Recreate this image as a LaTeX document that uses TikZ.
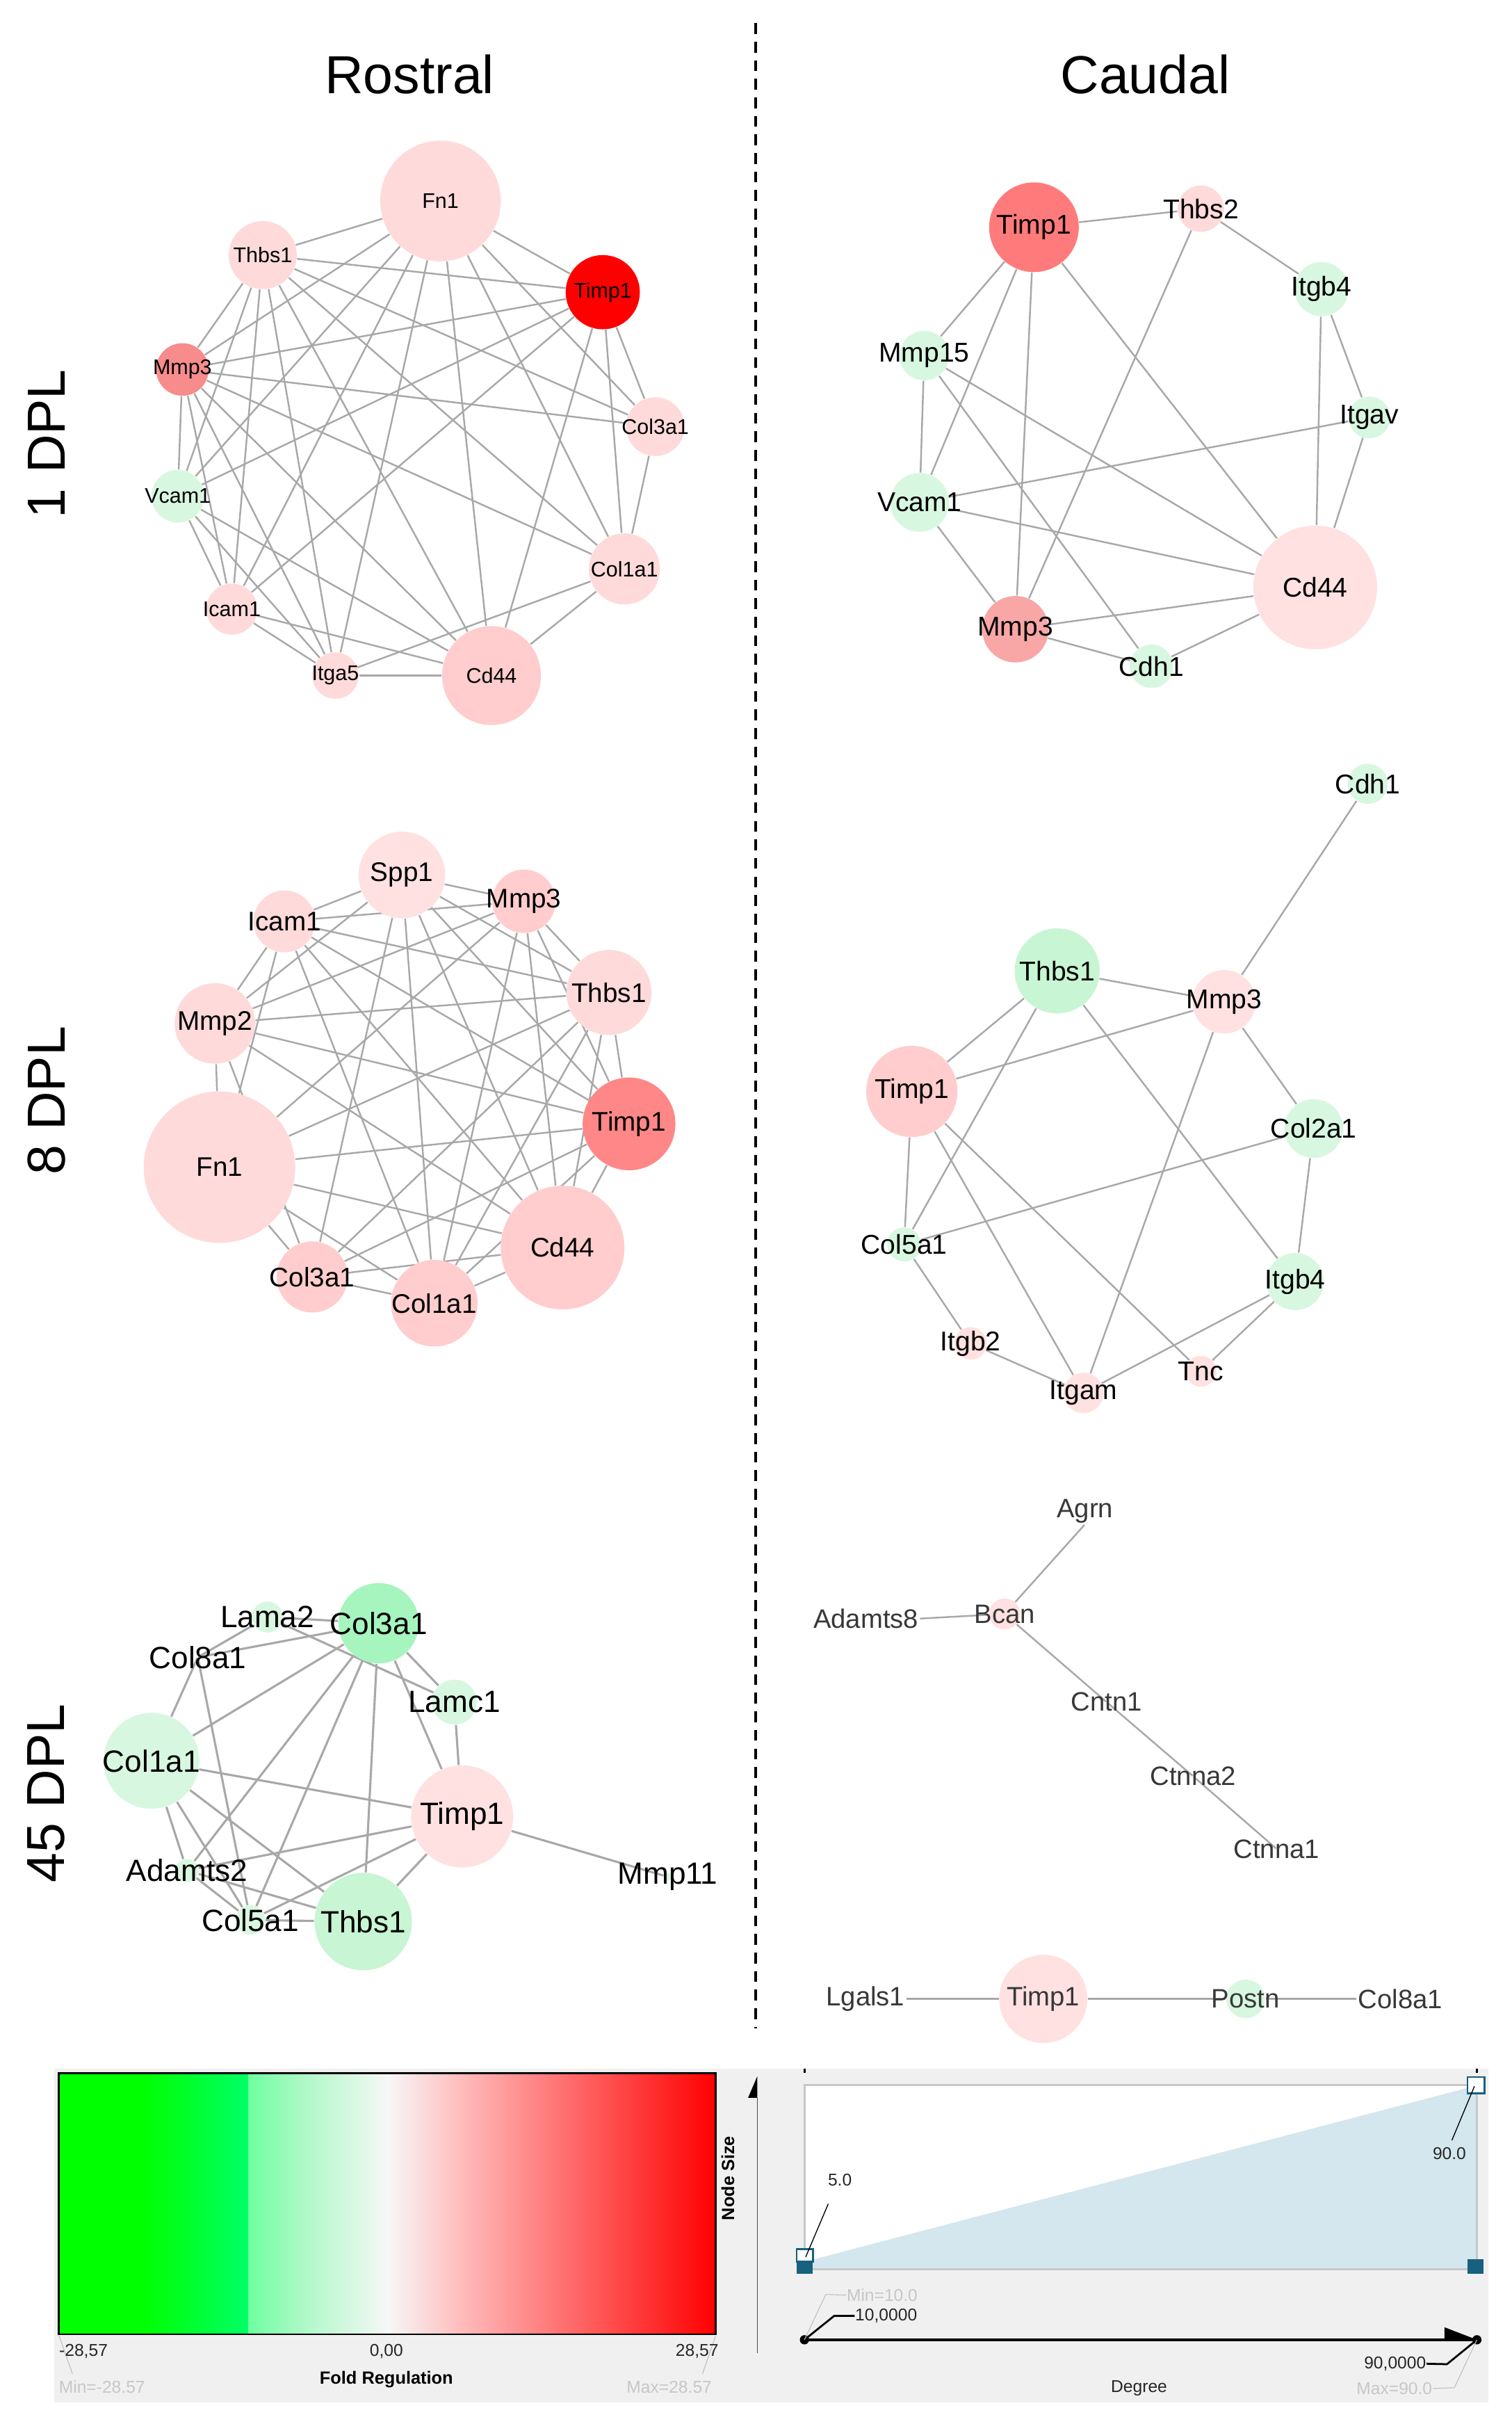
\documentclass[tikz,border=0pt]{standalone}
\usepackage{fontspec}
\setmainfont{Liberation Sans}
\usetikzlibrary{backgrounds}

\definecolor{upHi}{HTML}{FF0000}
\definecolor{upMd}{HTML}{FF7B7B}
\definecolor{upT}{HTML}{FF8787}
\definecolor{upSal}{HTML}{F78C8C}
\definecolor{upLo}{HTML}{F8A6A6}
\definecolor{upSoft}{HTML}{FFCDCD}
\definecolor{upFaint}{HTML}{FFDADA}
\definecolor{upPale}{HTML}{FFE1E1}
\definecolor{dnFaint}{HTML}{D8F7E0}
\definecolor{dnSoft}{HTML}{C8F5D3}
\definecolor{dnMd}{HTML}{A6F4BE}
\definecolor{linkgray}{HTML}{A8A8A8}
\definecolor{panelgray}{HTML}{F0F0F0}
\definecolor{handle}{HTML}{17607F}
\definecolor{sizefill}{HTML}{D4E6EE}
\definecolor{barG}{HTML}{00FF00}
\definecolor{barGc}{HTML}{00FF66}
\definecolor{barMa}{HTML}{6EFFA0}
\definecolor{barMb}{HTML}{B0F8C8}
\definecolor{barW}{HTML}{F7F7F7}
\definecolor{barP}{HTML}{FFBDBD}

\tikzset{
  gene/.style 2 args={circle, fill=#2, inner sep=0pt, minimum size=#1*0.2mm},
  bare/.style={inner sep=0pt, minimum size=0pt},
  link/.style={draw=linkgray, line width=0.22mm},
  head/.style={font=\fontsize{19.7}{22}\selectfont},
  tick/.style={font=\fontsize{6.3}{7}\selectfont, text=black!85, inner sep=0pt},
  faint/.style={font=\fontsize{6.3}{7}\selectfont, text=black!22, inner sep=0pt},
  boldtick/.style={font=\bfseries\fontsize{6.5}{7}\selectfont, inner sep=0pt},
}

\begin{document}
\begin{tikzpicture}[x=0.2mm, y=-0.2mm]
\useasboundingbox (0,0) rectangle (978,1568);
\begin{pgfonlayer}{background}
  \fill[white] (0,0) rectangle (978,1568);
\end{pgfonlayer}

% headings and divider
\node[head] (rost) at (265,48) {Rostral};
\node[head] (caud) at (741,48) {Caudal};
\node[head, rotate=90] (dpla) at (30,287) {1 DPL};
\node[head, rotate=90] (dplb) at (30,712) {8 DPL};
\node[head, rotate=90] (dplc) at (30,1160) {45 DPL};
\draw[black, line width=0.4mm, dash pattern=on 1.4mm off 1mm] (489,15) -- (489,1312);

% rostral, 1 DPL
\begin{scope}[every label/.style={font=\fontsize{7.8}{9}\selectfont, inner sep=0pt}]
  \node[gene={78}{upFaint}, label=center:Fn1] (raFn) at (285,130) {};
  \node[gene={44}{upFaint}, label=center:Thbs1] (raThbs) at (170,165) {};
  \node[gene={48}{upHi}, label=center:Timp1] (raTimp) at (390,189) {};
  \node[gene={34}{upSal}, label=center:Mmp3] (raMmp) at (118,239) {};
  \node[gene={38}{upFaint}, label=center:Col3a1] (raCol3) at (424,276) {};
  \node[gene={34}{dnFaint}, label=center:Vcam1] (raVcam) at (115,321) {};
  \node[gene={46}{upFaint}, label=center:Col1a1] (raCol1) at (404,368) {};
  \node[gene={33}{upFaint}, label=center:Icam1] (raIcam) at (150,394) {};
  \node[gene={30}{upFaint}, label=center:Itga5] (raItga) at (217,437) {};
  \node[gene={64}{upSoft}, label=center:Cd44] (raCd) at (318,437) {};
\end{scope}
\begin{pgfonlayer}{background}
  \foreach \a/\b in {Fn/Thbs, Fn/Timp, Fn/Mmp, Fn/Col3, Fn/Vcam, Fn/Col1, Fn/Icam, Fn/Itga, Fn/Cd,
      Thbs/Timp, Thbs/Mmp, Thbs/Col3, Thbs/Vcam, Thbs/Icam, Thbs/Itga, Thbs/Cd, Thbs/Col1,
      Timp/Mmp, Timp/Col3, Timp/Col1, Timp/Cd, Timp/Vcam, Timp/Icam,
      Mmp/Col3, Mmp/Col1, Mmp/Cd, Mmp/Vcam, Mmp/Icam, Mmp/Itga,
      Col3/Col1, Col1/Cd, Col1/Itga, Vcam/Icam, Vcam/Itga, Vcam/Cd,
      Icam/Itga, Icam/Cd, Itga/Cd}
    \draw[link] (ra\a) -- (ra\b);
\end{pgfonlayer}

% caudal, 1 DPL
\begin{scope}[every label/.style={font=\fontsize{10}{11}\selectfont, inner sep=0pt}]
  \node[gene={58}{upMd}, label=center:Timp1] (caTimp) at (669,147) {};
  \node[gene={30}{upFaint}, label=center:Thbs2] (caThbs) at (777,135) {};
  \node[gene={35}{dnFaint}, label=center:Itgb4] (caItgb) at (855,187) {};
  \node[gene={32}{dnFaint}, label=center:Mmp15] (caMmpf) at (598,230) {};
  \node[gene={27}{dnFaint}, label=center:Itgav] (caItgav) at (886,270) {};
  \node[gene={38}{dnFaint}, label=center:Vcam1] (caVcam) at (595,325) {};
  \node[gene={80}{upPale}, label=center:Cd44] (caCd) at (851,380) {};
  \node[gene={43}{upLo}, label=center:Mmp3] (caMmp) at (657,407) {};
  \node[gene={28}{dnFaint}, label=center:Cdh1] (caCdh) at (745,431) {};
\end{scope}
\begin{pgfonlayer}{background}
  \foreach \a/\b in {Timp/Thbs, Thbs/Itgb, Timp/Mmpf, Timp/Vcam, Timp/Mmp, Timp/Cd,
      Thbs/Mmp, Itgb/Itgav, Itgb/Cd, Itgav/Cd, Itgav/Vcam, Mmpf/Vcam, Mmpf/Cd,
      Mmpf/Cdh, Vcam/Cd, Vcam/Mmp, Mmp/Cd, Mmp/Cdh, Cdh/Cd}
    \draw[link] (ca\a) -- (ca\b);
\end{pgfonlayer}

% rostral, 8 DPL
\begin{scope}[every label/.style={font=\fontsize{9.9}{11}\selectfont, inner sep=0pt}]
  \node[gene={56}{upPale}, label=center:Spp1] (rbSpp) at (260,566) {};
  \node[gene={41}{upSoft}, label=center:Mmp3] (rbMmpc) at (339,583) {};
  \node[gene={40}{upFaint}, label=center:Icam1] (rbIcam) at (184,596) {};
  \node[gene={55}{upFaint}, label=center:Thbs1] (rbThbs) at (394,642) {};
  \node[gene={52}{upFaint}, label=center:Mmp2] (rbMmpb) at (139,662) {};
  \node[gene={60}{upT}, label=center:Timp1] (rbTimp) at (407,727) {};
  \node[gene={98}{upFaint}, label=center:Fn1] (rbFn) at (142,755) {};
  \node[gene={80}{upSoft}, label=center:Cd44] (rbCd) at (364,807) {};
  \node[gene={46}{upSoft}, label=center:Col3a1] (rbCol3) at (202,826) {};
  \node[gene={56}{upSoft}, label=center:Col1a1] (rbCol1) at (281,843) {};
\end{scope}
\begin{pgfonlayer}{background}
  \foreach \a/\b in {Spp/Mmpc, Spp/Icam, Spp/Thbs, Spp/Mmpb, Spp/Timp, Spp/Cd, Spp/Col3, Spp/Col1,
      Mmpc/Icam, Mmpc/Thbs, Mmpc/Mmpb, Mmpc/Timp, Mmpc/Fn, Mmpc/Cd, Mmpc/Col1,
      Icam/Thbs, Icam/Mmpb, Icam/Timp, Icam/Fn, Icam/Cd, Icam/Col1,
      Thbs/Mmpb, Thbs/Timp, Thbs/Fn, Thbs/Cd, Thbs/Col3, Thbs/Col1,
      Mmpb/Timp, Mmpb/Fn, Mmpb/Cd, Mmpb/Col3,
      Timp/Fn, Timp/Cd, Timp/Col3, Timp/Col1,
      Fn/Cd, Fn/Col3, Fn/Col1, Cd/Col3, Cd/Col1, Col3/Col1}
    \draw[link] (rb\a) -- (rb\b);
\end{pgfonlayer}

% caudal, 8 DPL
\begin{scope}[every label/.style={font=\fontsize{10}{11}\selectfont, inner sep=0pt}]
  \node[gene={26}{dnFaint}, label=center:Cdh1] (cbCdh) at (885,507) {};
  \node[gene={55}{dnSoft}, label=center:Thbs1] (cbThbs) at (684,628) {};
  \node[gene={41}{upPale}, label=center:Mmp3] (cbMmp) at (792,648) {};
  \node[gene={59}{upSoft}, label=center:Timp1] (cbTimp) at (590,706) {};
  \node[gene={38}{dnFaint}, label=center:Col2a1] (cbCol2) at (850,730) {};
  \node[gene={22}{dnFaint}, label=center:Col5a1] (cbCol5) at (585,805) {};
  \node[gene={37}{dnFaint}, label=center:Itgb4] (cbItgb) at (838,829) {};
  \node[gene={21}{upPale}, label=center:Itgb2] (cbItgbb) at (628,869) {};
  \node[gene={20}{upPale}, label=center:Tnc] (cbTnc) at (777,887) {};
  \node[gene={26}{upPale}, label=center:Itgam] (cbItgam) at (701,901) {};
\end{scope}
\begin{pgfonlayer}{background}
  \foreach \a/\b in {Cdh/Mmp, Thbs/Mmp, Thbs/Timp, Thbs/Col5, Thbs/Itgb, Timp/Mmp,
      Mmp/Col2, Mmp/Itgam, Timp/Col5, Timp/Itgam, Timp/Tnc, Col2/Col5, Col2/Itgb,
      Col5/Itgbb, Itgbb/Itgam, Itgam/Itgb, Itgb/Tnc}
    \draw[link] (cb\a) -- (cb\b);
\end{pgfonlayer}

% rostral, 45 DPL
\begin{scope}[every label/.style={font=\fontsize{11.3}{12}\selectfont, inner sep=0pt}]
  \node[gene={20}{dnFaint}, label=center:Lama2] (rcLama) at (173,1046) {};
  \node[gene={52}{dnMd}, label=center:Col3a1] (rcCol3) at (245,1050) {};
  \node[bare, label=center:Col8a1] (rcCol8) at (128,1072) {};
  \node[gene={29}{dnFaint}, label=center:Lamc1] (rcLamc) at (294,1101) {};
  \node[gene={62}{dnFaint}, label=center:Col1a1] (rcCol1) at (98,1139) {};
  \node[gene={66}{upPale}, label=center:Timp1] (rcTimp) at (299,1175) {};
  \node[gene={15}{dnFaint}, label=center:Adamts2] (rcAdam) at (121,1210) {};
  \node[gene={5}{dnFaint}, label=center:Mmp11] (rcMmp) at (432,1214) {};
  \node[gene={19}{dnFaint}, label=center:Col5a1] (rcCol5) at (162,1242) {};
  \node[gene={63}{dnSoft}, label=center:Thbs1] (rcThbs) at (235,1243) {};
\end{scope}
\begin{pgfonlayer}{background}
  \foreach \a/\b in {Lama/Col3, Lama/Col8, Col8/Col3, Lama/Lamc, Col3/Lamc, Col3/Timp,
      Lamc/Timp, Col3/Col1, Col3/Adam, Col3/Col5, Col3/Thbs, Col8/Col1, Col8/Col5,
      Col1/Timp, Col1/Adam, Col1/Col5, Col1/Thbs, Timp/Adam, Timp/Col5, Timp/Thbs,
      Timp/Mmp, Adam/Col5, Adam/Thbs, Col5/Thbs}
    \draw[link, line width=0.28mm] (rc\a) -- (rc\b);
\end{pgfonlayer}

% caudal, 45 DPL
\begin{scope}[every label/.style={font=\fontsize{9.8}{11}\selectfont, inner sep=0pt, text=black!78}]
  \node[bare, label=north:Agrn] (ccAgrn) at (702,986) {};
  \node[gene={20}{upPale}, label=center:Bcan] (ccBcan) at (650,1044) {};
  \node[bare, label=west:Adamts8] (ccAdam) at (595,1047) {};
  \node[bare, label=center:Cntn1] (ccCntn) at (716,1101) {};
  \node[bare, label=center:Ctnna2] (ccCtnb) at (772,1149) {};
  \node[bare, label=center:Ctnna1] (ccCtna) at (826,1196) {};
  \node[bare, label=west:Lgals1] (ccLgal) at (586,1293) {};
  \node[gene={57}{upPale}, label=center:Timp1] (ccTimp) at (675,1293) {};
  \node[gene={25}{dnFaint}, label=center:Postn] (ccPost) at (806,1293) {};
  \node[bare, label=east:Col8a1] (ccCol8) at (878,1293) {};
\end{scope}
\begin{pgfonlayer}{background}
  \foreach \a/\b in {Agrn/Bcan, Bcan/Adam, Bcan/Cntn, Cntn/Ctnb, Ctnb/Ctna,
      Lgal/Timp, Timp/Post, Post/Col8}
    \draw[link] (cc\a) -- (cc\b);
\end{pgfonlayer}

% legend: fold regulation
\fill[panelgray] (35,1338) rectangle (963,1554);
\fill[barG] (38,1341) rectangle (92.5,1510);
\shade[left color=barG, right color=barGc] (92,1341) rectangle (161,1510);
\shade[left color=barMa, right color=barMb] (160.5,1341) rectangle (197.5,1510);
\shade[left color=barMb, right color=barW] (197,1341) rectangle (251.5,1510);
\shade[left color=barW, right color=barP] (251,1341) rectangle (297.5,1510);
\shade[left color=barP, right color=upHi] (297,1341) rectangle (463,1510);
\draw[black, line width=0.25mm] (38,1341) rectangle (463,1510);
\draw[black!25, line width=0.1mm] (38.3,1511) -- (46.9,1535.6);
\draw[black!25, line width=0.1mm] (463,1511) -- (454.5,1535.6);
\node[tick] (fmin) at (54,1521) {-28,57};
\node[tick] (fmid) at (250,1521) {0,00};
\node[tick] (fmax) at (451,1521) {28,57};
\node[boldtick] (foldlab) at (250,1539) {Fold Regulation};
\node[faint] (fminb) at (66,1544) {Min=-28.57};
\node[faint] (fmaxb) at (433,1544) {Max=28.57};

% legend: node size
\fill[white] (520.7,1348.7) rectangle (955.6,1468);
\fill[sizefill] (520.7,1463) -- (955.6,1349) -- (955.6,1468) -- (520.7,1468) -- cycle;
\draw[black!22, line width=0.3mm] (520.7,1348.7) rectangle (955.6,1468);
\draw[handle, line width=0.25mm, fill=white] (515.5,1455) rectangle (526,1463);
\fill[handle] (515.5,1463) rectangle (526,1471);
\draw[handle, line width=0.25mm, fill=white] (949.5,1343.5) rectangle (960.5,1354);
\fill[handle] (949.5,1461.5) rectangle (960,1471);
\draw[black, line width=0.3mm] (520.5,1338) -- (520.5,1341);
\draw[black, line width=0.3mm] (955.6,1338) -- (955.6,1341);
\node[boldtick, rotate=90] (sizelab) at (471,1409) {Node Size};
\draw[black!70, line width=0.1mm] (490,1357) -- (490,1522);
\fill[black] (490,1343) -- (490,1357) -- (484,1357) -- cycle;
\node[tick] (lowsize) at (543.4,1410) {5.0};
\node[tick] (highsize) at (937.8,1392.8) {90.0};
\draw[black, line width=0.12mm] (535.9,1425.6) -- (521.3,1460);
\draw[black, line width=0.12mm] (939.4,1384.5) -- (954,1349.5);
\coordinate (dmin) at (520.5,1513.5);
\coordinate (dmax) at (955.6,1513.5);
\draw[black, line width=0.3mm] (dmin) -- (dmax);
\fill[black] (934.6,1505.4) -- (dmax) -- (934.6,1513.6) -- cycle;
\fill[black] (dmin) circle (3);
\fill[black] (dmax) circle (3);
\node[tick, anchor=west] (degmin) at (553,1498) {10,0000};
\node[faint, anchor=west] (degminb) at (547.5,1484.6) {Min=10.0};
\node[tick, anchor=east] (degmax) at (923,1529) {90,0000};
\node[faint, anchor=east] (degmaxb) at (927,1545) {Max=90.0};
\node[tick] (deglab) at (737,1545) {Degree};
\draw[black, line width=0.25mm] (dmin) -- (539.8,1498) -- (degmin.west);
\draw[black!25, line width=0.1mm] (dmin) -- (534.3,1484.2) -- (degminb.west);
\draw[black, line width=0.25mm] (dmax) -- (936.2,1529.3) -- (degmax.east);
\draw[black!25, line width=0.1mm] (dmax) -- (941,1544.5) -- (degmaxb.east);
\end{tikzpicture}
\end{document}
